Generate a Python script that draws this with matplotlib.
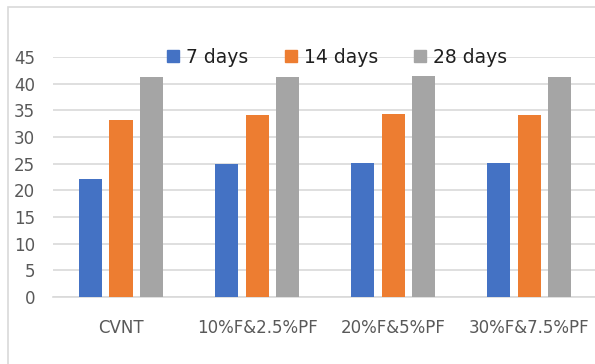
import matplotlib.pyplot as plt
from matplotlib.lines import Line2D
from matplotlib.patches import Rectangle
import numpy as np

# compressive strength by mix and curing age
mixes = ["CVNT", "10%F&2.5%PF", "20%F&5%PF", "30%F&7.5%PF"]
ages = ["7 days", "14 days", "28 days"]
days_7 = [22.2, 25.0, 25.2, 25.2]
days_14 = [33.3, 34.1, 34.3, 34.1]
days_28 = [41.2, 41.2, 41.5, 41.2]
colors = ["#4472C4", "#ED7D31", "#A5A5A5"]

fig = plt.figure(figsize=(5.95, 3.64), dpi=100)
ax = fig.add_axes([0.089, 0.184, 0.915, 0.659])

# light frame around the chart area (runs off the right and bottom edges)
fig.patches.append(Rectangle((8 / 595, -0.1), 1.2, (364 - 7) / 364 + 0.1,
                             transform=fig.transFigure, fill=False,
                             edgecolor="#d9d9d9", linewidth=1.2))

x = np.arange(len(mixes))
step = 0.224
width = 0.17
for i, (vals, c) in enumerate(zip([days_7, days_14, days_28], colors)):
    ax.bar(x + (i - 1) * step, vals, width=width, color=c, zorder=3)

ax.set_xlim(-0.5, 3.5)
ax.set_ylim(0, 45)
ax.set_yticks(range(0, 46, 5))
ax.set_xticks(x)
ax.set_xticklabels(mixes)
ax.grid(axis="y", color="#d9d9d9", linewidth=1.2, zorder=0)
for s in ["top", "right", "left"]:
    ax.spines[s].set_visible(False)
ax.spines["bottom"].set_color("#d9d9d9")
ax.spines["bottom"].set_linewidth(1.2)
ax.tick_params(axis="both", length=0, labelsize=12, labelcolor="#595959")
ax.tick_params(axis="y", pad=13)
ax.tick_params(axis="x", pad=16)

handles = [Line2D([], [], marker="s", linestyle="none", markersize=9,
                  color=c) for c in colors]
leg = ax.legend(handles, ages, loc="center", bbox_to_anchor=(0.52, 1.0),
                ncol=3, frameon=False, fontsize=13.5, handletextpad=0.25,
                columnspacing=1.8, handlelength=0.9)
for t in leg.get_texts():
    t.set_color("#1f1f1f")

fig.savefig("out.png", dpi=100)
